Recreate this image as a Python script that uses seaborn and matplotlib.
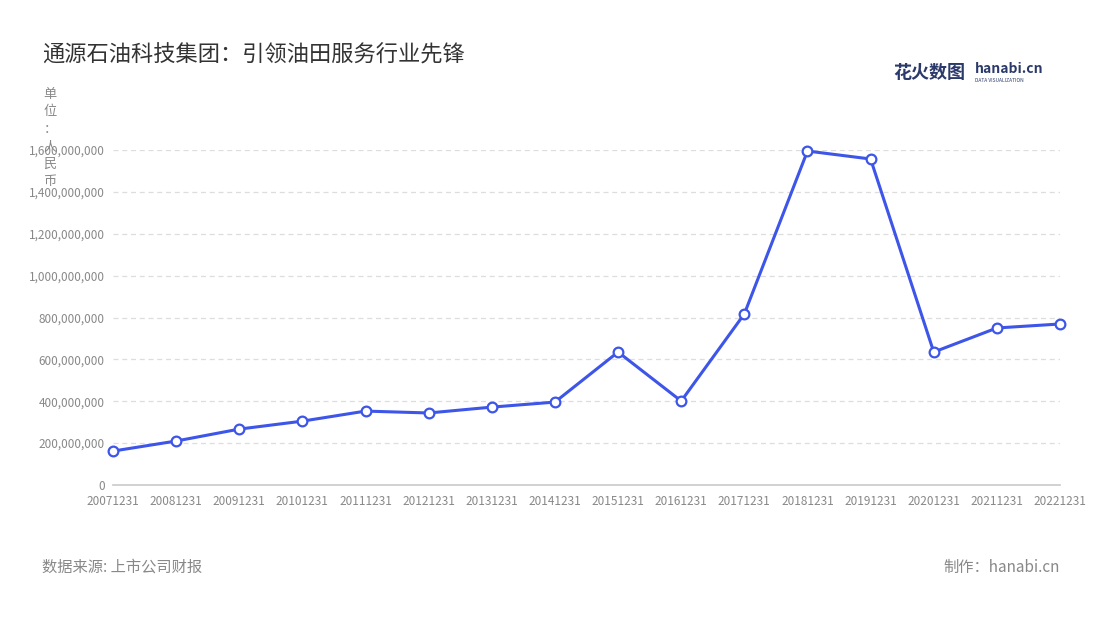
import matplotlib
matplotlib.use("Agg")
import matplotlib.pyplot as plt
import seaborn as sns
import pandas as pd

years = ["20071231","20081231","20091231","20101231","20111231","20121231","20131231","20141231",
         "20151231","20161231","20171231","20181231","20191231","20201231","20211231","20221231"]
values = [162e6,210e6,267e6,305e6,353e6,344e6,372e6,396e6,635e6,401e6,817e6,1595e6,1557e6,635e6,750e6,769e6]
yticks = [0,200e6,400e6,600e6,800e6,1000e6,1200e6,1400e6,1600e6]

sns.set_theme(style="white")
plt.rcParams['font.family'] = ['Noto Sans CJK SC', 'DejaVu Sans']

df = pd.DataFrame({"x": range(len(years)), "v": values})
fig = plt.figure(figsize=(11, 6.2), dpi=100)
ax = fig.add_axes([113/1100, 1-485/620, (1060-113)/1100, (485-150)/620])
sns.lineplot(data=df, x="x", y="v", ax=ax, color="#3d55e8", linewidth=2.2,
             marker="o", markersize=7, markerfacecolor="white", markeredgecolor="#3d55e8",
             markeredgewidth=1.6, clip_on=False, zorder=5)
ax.set_xlim(0, len(years)-1)
ax.set_ylim(0, 1600e6)
ax.set_yticks(yticks)
ax.set_yticklabels([f"{int(t):,}" for t in yticks])
ax.set_xticks(range(len(years)))
ax.set_xticklabels(years)
ax.tick_params(axis='both', labelsize=8.5, colors="#888888", length=0, pad=6)
ax.tick_params(axis='x', length=4, color="#cccccc", pad=3)
for t in yticks[1:]:
    ax.axhline(t, color="#dddddd", linestyle=(0, (4, 3)), linewidth=0.9, zorder=0)
for s in ["top", "right", "left"]:
    ax.spines[s].set_visible(False)
ax.spines["bottom"].set_color("#cccccc")
ax.set_xlabel(""); ax.set_ylabel("")

fig.text(42/1100, 1-55/620, "通源石油科技集团：引领油田服务行业先锋", fontsize=16, color="#333333", va="center")
fig.text(50/1100, 1-88/620, "单\n位\n：\n人\n民\n币", fontsize=9.5, color="#888888", va="top", ha="center", linespacing=1.45)
fig.text(42/1100, 1-567/620, "数据来源: 上市公司财报", fontsize=11, color="#888888", va="center")
fig.text(1060/1100, 1-567/620, "制作：hanabi.cn", fontsize=11, color="#888888", va="center", ha="right")
fig.text(893/1100, 1-72/620, "花火数图", fontsize=13, color="#2b3a6b", va="center", fontweight="bold")
fig.text(975/1100, 1-69/620, "hanabi.cn", fontsize=10, color="#2b3a6b", va="center", fontweight="bold")
fig.text(975/1100, 1-80/620, "DATA VISUALIZATION", fontsize=3.5, color="#2b3a6b", va="center")
fig.savefig("out.png", dpi=100)
